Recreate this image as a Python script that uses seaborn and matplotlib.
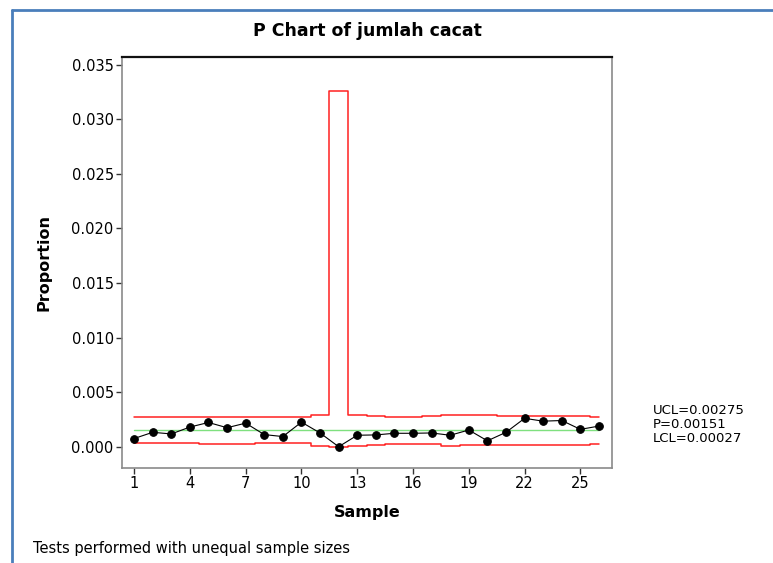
import matplotlib
matplotlib.use("Agg")
import matplotlib.pyplot as plt
from matplotlib.lines import Line2D
import seaborn as sns
import numpy as np
import pandas as pd

# ---- data ----
samples = list(range(1, 27))
proportion = [0.00075, 0.00132, 0.00117, 0.00180, 0.00222, 0.00174, 0.00216,
              0.00111, 0.00093, 0.00225, 0.00126, 0.00000, 0.00105, 0.00108,
              0.00123, 0.00123, 0.00126, 0.00105, 0.00153, 0.00054, 0.00132,
              0.00260, 0.00234, 0.00240, 0.00159, 0.00189]
ucl = [0.00272, 0.00272, 0.00272, 0.00272, 0.00275, 0.00275, 0.00275,
       0.00272, 0.00272, 0.00272, 0.00294, 0.03260, 0.00294, 0.00283,
       0.00275, 0.00275, 0.00281, 0.00294, 0.00287, 0.00287, 0.00283,
       0.00283, 0.00283, 0.00283, 0.00283, 0.00275]
lcl = [0.00030, 0.00030, 0.00030, 0.00030, 0.00027, 0.00027, 0.00027,
       0.00030, 0.00030, 0.00030, 0.00008, 0.00000, 0.00008, 0.00019,
       0.00027, 0.00027, 0.00021, 0.00008, 0.00015, 0.00015, 0.00019,
       0.00019, 0.00019, 0.00019, 0.00019, 0.00027]
p_bar = 0.00151
x_ticks = [1, 4, 7, 10, 13, 16, 19, 22, 25]
y_ticks = [0.000, 0.005, 0.010, 0.015, 0.020, 0.025, 0.030, 0.035]
limit_labels = ["UCL=0.00275", "P=0.00151", "LCL=0.00027"]

df = pd.DataFrame({"Sample": samples, "Proportion": proportion,
                   "UCL": ucl, "LCL": lcl, "P": [p_bar] * len(samples)})

sns.set_theme(style="white")
plt.rcParams["font.family"] = ["DejaVu Sans"]
plt.rcParams["text.color"] = "black"
plt.rcParams["axes.labelcolor"] = "black"

fig = plt.figure(figsize=(7.73, 5.63), dpi=100)
fig.patch.set_facecolor("white")
ax = fig.add_axes([122 / 773, 95 / 563, 490 / 773, 411 / 563])

sns.lineplot(data=df, x="Sample", y="UCL", ax=ax, color="#ff2020", lw=1.1,
             drawstyle="steps-mid")
sns.lineplot(data=df, x="Sample", y="LCL", ax=ax, color="#ff2020", lw=1.1,
             drawstyle="steps-mid")
sns.lineplot(data=df, x="Sample", y="P", ax=ax, color="#7fe07f", lw=1.0)
sns.lineplot(data=df, x="Sample", y="Proportion", ax=ax, color="black",
             lw=0.8, marker="o", markersize=5.5, markeredgecolor="black")

ax.set_xlim(0.35, 26.7)
ax.set_ylim(-0.00195, 0.0357)
ax.set_xticks(x_ticks)
ax.set_yticks(y_ticks)
ax.set_yticklabels([f"{v:.3f}" for v in y_ticks])
ax.tick_params(axis="both", direction="out", length=4, width=1,
               color="#333333", labelsize=10.5, labelcolor="black", pad=2,
               left=True, bottom=True)
for side in ["left", "right", "bottom"]:
    ax.spines[side].set_color("#8a8a8a")
    ax.spines[side].set_linewidth(1.2)
ax.spines["top"].set_color("#111111")
ax.spines["top"].set_linewidth(1.6)

ax.set_xlabel("Sample", fontsize=11.5, fontweight="bold", labelpad=10,
              color="black")
ax.set_ylabel("Proportion", fontsize=11.5, fontweight="bold", labelpad=14,
              color="black")
ax.set_title("P Chart of jumlah cacat", fontsize=12.5, fontweight="bold",
             pad=15, color="black")

for lab, yy in zip(limit_labels, [411, 424.5, 438]):
    fig.text(653 / 773, 1 - yy / 563, lab, fontsize=9.5, va="center",
             ha="left", color="black")

fig.text(33 / 773, 1 - 548 / 563, "Tests performed with unequal sample sizes",
         fontsize=10.5, va="center", ha="left", color="black")

# window border
fig.add_artist(Line2D([12 / 773, 12 / 773], [0, 1 - 10 / 563],
                      transform=fig.transFigure, color="#4a7ebb", lw=2))
fig.add_artist(Line2D([12 / 773, 1], [1 - 10 / 563, 1 - 10 / 563],
                      transform=fig.transFigure, color="#4a7ebb", lw=2))

fig.savefig("out.png", dpi=100)
